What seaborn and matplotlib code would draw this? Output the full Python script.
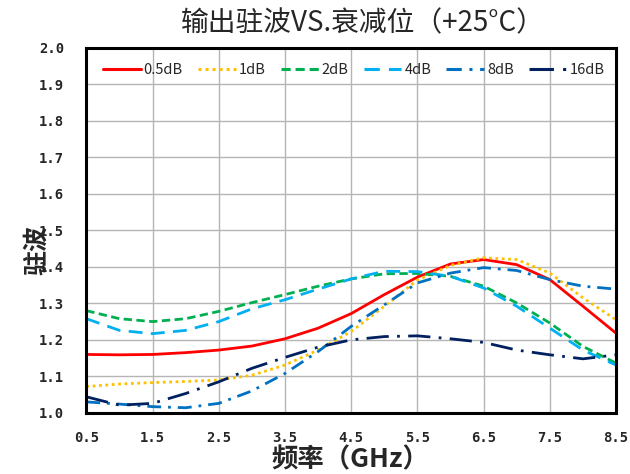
import numpy as np
import pandas as pd
import matplotlib
matplotlib.use("Agg")
import matplotlib.pyplot as plt
import seaborn as sns
from matplotlib.ticker import FixedLocator

freq = [0.5, 1.0, 1.5, 2.0, 2.5, 3.0, 3.5, 4.0, 4.5, 5.0, 5.5, 6.0, 6.5, 7.0, 7.5, 8.0, 8.5]
s_05dB = [1.160, 1.159, 1.160, 1.165, 1.172, 1.183, 1.203, 1.232, 1.272, 1.324, 1.372, 1.408, 1.420, 1.406, 1.365, 1.292, 1.218]
s_1dB = [1.072, 1.079, 1.083, 1.086, 1.090, 1.103, 1.131, 1.172, 1.223, 1.292, 1.364, 1.404, 1.425, 1.420, 1.383, 1.315, 1.255]
s_2dB = [1.280, 1.258, 1.250, 1.258, 1.278, 1.302, 1.324, 1.347, 1.367, 1.381, 1.382, 1.374, 1.347, 1.301, 1.246, 1.182, 1.136]
s_4dB = [1.258, 1.226, 1.217, 1.226, 1.250, 1.285, 1.310, 1.339, 1.367, 1.388, 1.387, 1.374, 1.342, 1.292, 1.232, 1.172, 1.131]
s_8dB = [1.030, 1.024, 1.017, 1.014, 1.026, 1.060, 1.108, 1.168, 1.237, 1.296, 1.356, 1.383, 1.398, 1.390, 1.365, 1.347, 1.339]
s_16dB = [1.044, 1.021, 1.026, 1.053, 1.085, 1.122, 1.152, 1.180, 1.200, 1.209, 1.211, 1.203, 1.193, 1.172, 1.159, 1.148, 1.159]

series_names = ["0.5dB", "1dB", "2dB", "4dB", "8dB", "16dB"]
series_values = [s_05dB, s_1dB, s_2dB, s_4dB, s_8dB, s_16dB]
x_ticks = [0.5, 1.5, 2.5, 3.5, 4.5, 5.5, 6.5, 7.5, 8.5]
x_tick_labels = ["0.5", "1.5", "2.5", "3.5", "4.5", "5.5", "6.5", "7.5", "8.5"]
y_ticks = [1.0, 1.1, 1.2, 1.3, 1.4, 1.5, 1.6, 1.7, 1.8, 1.9, 2.0]
y_tick_labels = ["1.0", "1.1", "1.2", "1.3", "1.4", "1.5", "1.6", "1.7", "1.8", "1.9", "2.0"]
title = "输出驻波VS.衰减位（+25°C）"
xlabel = "频率（GHz）"
ylabel = "驻波"

colors = ["#ff0000", "#ffc000", "#00b050", "#00b0f0", "#0070c0", "#002060"]
dash_styles = ["", (1, 1.3), (3, 1.6), (5, 3), (5, 2.5, 1, 2.5), (8, 3, 1, 3)]

rows = []
for name, vals in zip(series_names, series_values):
    for f, v in zip(freq, vals):
        rows.append({"freq": f, "vswr": v, "series": name})
df = pd.DataFrame(rows)

sns.set_theme(style="white")
plt.rcParams['font.family'] = ['Noto Sans CJK SC', 'DejaVu Sans']

fig = plt.figure(figsize=(6.3, 4.74), dpi=100)
ax = fig.add_axes([0.137, 0.129, 0.841, 0.770])

sns.lineplot(data=df, x="freq", y="vswr", hue="series", style="series",
             hue_order=series_names, style_order=series_names,
             palette=colors, dashes=dash_styles, linewidth=2.0, ax=ax)

ax.set_xlim(0.5, 8.5)
ax.set_ylim(1.0, 2.0)
ax.set_xticks(x_ticks)
ax.set_yticks(y_ticks)
tick_font = dict(family="DejaVu Sans Mono", weight="bold", size=10)
ax.set_xticklabels(x_tick_labels, fontdict=tick_font)
ax.set_yticklabels(y_tick_labels, fontdict=tick_font)
ax.xaxis.set_minor_locator(FixedLocator(np.arange(0.5, 8.51, 0.2)))
ax.yaxis.set_minor_locator(FixedLocator(np.arange(1.0, 2.001, 0.05)))
ax.tick_params(axis="both", which="both", direction="in", length=4, width=1.2, color="black")
ax.tick_params(axis="x", which="major", pad=13)
ax.tick_params(axis="y", which="major", pad=16)
ax.tick_params(top=False, right=False, which="both")

ax.grid(True, which="major", color="#b5b5b5", linewidth=1.0)
for sp in ax.spines.values():
    sp.set_color("black")
    sp.set_linewidth(2.2)

ax.set_xlabel("")
ax.set_ylabel("")
fig.text(0.556, 0.030, xlabel, ha="center", va="center", fontsize=19, fontweight="bold")
fig.text(0.058, 0.473, ylabel, ha="center", va="center", fontsize=18, fontweight="bold", rotation=90)
fig.text(0.576, 0.950, title, ha="center", va="center", fontsize=20, fontweight="medium")

handles, labels = ax.get_legend_handles_labels()
leg = ax.legend(handles, labels, loc="lower left", bbox_to_anchor=(0.02, 0.905, 0.97, 0.08),
                mode="expand", ncol=6, frameon=False, handlelength=2.6, handletextpad=0.2,
                columnspacing=0.6, borderaxespad=0, prop={"size": 10.5})
for h in leg.legend_handles:
    h.set_linewidth(2.2)

fig.savefig("out.png", dpi=100)
